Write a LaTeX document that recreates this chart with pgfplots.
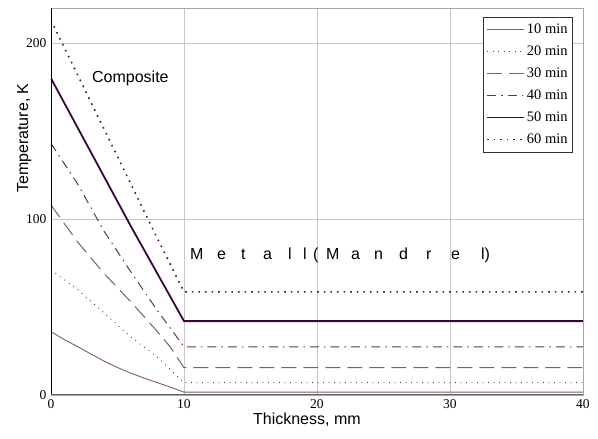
\documentclass[border=0pt]{standalone}
\usepackage{fontspec}
\setmainfont{Liberation Serif}
\newfontfamily\arial{Liberation Sans}
\usepackage{pgfplots}
\pgfplotsset{compat=1.18}

\definecolor{cLight}{HTML}{80587F}
\definecolor{cMid}{HTML}{633263}
\definecolor{cDash}{HTML}{7E5880}
\definecolor{cDark}{HTML}{36063A}
\definecolor{cDot}{HTML}{501450}

\newcommand{\ltr}[2]{\makebox[#1pt][l]{#2}}

\begin{document}
\begin{tikzpicture}
\useasboundingbox (-51pt,-44pt) rectangle (547pt,395pt);
\begin{axis}[
    scale only axis,
    width=532pt, height=387pt,
    xmin=0, xmax=40, ymin=0, ymax=220,
    xtick={0,10,20,30,40}, ytick={0,100,200},
    major tick length=0pt,
    clip mode=individual,
    grid=major, grid style={draw=black!22, line width=0.8pt},
    axis line style={draw=black!35, line width=0.8pt},
    tick label style={font=\fontsize{13.5}{14}\selectfont},
    xticklabel style={yshift=-1pt},
    yticklabel style={xshift=-1pt},
    /pgf/number format/assume math mode=true,
    legend style={at={(0.981,0.977)}, anchor=north east, draw=black!80, line width=0.6pt,
      fill=white, font=\fontsize{14.5}{15}\selectfont, row sep=6.8pt,
      inner xsep=3pt, inner ysep=5pt},
    legend cell align=left,
    legend image code/.code={\draw[#1] (0pt,0pt) -- (37pt,0pt);},
  ]
  \addplot[cLight, line width=0.9pt] coordinates {
    (0,36) (1,31.5) (2,27.5) (3,23.3) (4,19.2) (5,15.6) (6,12.4) (7,9.6) (8,7) (9,4.4) (10,1.6) (40,1.6)};
  \addlegendentry{10 min}
  \addplot[cMid, line width=0.9pt, dash pattern=on 0.9pt off 4.6pt] coordinates {
    (0,71) (2,60) (4,46.5) (6,33) (8,21.5) (10,7) (40,7)};
  \addlegendentry{20 min}
  \addplot[cDash, line width=1pt, dash pattern=on 15pt off 7pt] coordinates {
    (0,108) (2,87) (4,69) (6,53) (8,36) (9,27) (10,15.5) (40,15.5)};
  \addlegendentry{30 min}
  \addplot[cMid, line width=1pt, dash pattern=on 9pt off 5pt on 1.5pt off 5pt] coordinates {
    (0,143) (2,120) (4,93) (6,70) (8,48) (10,27.4) (40,27.4)};
  \addlegendentry{40 min}
  \addplot[cDark, line width=1.8pt] coordinates {
    (0,180) (2,152) (4,124) (6,96) (8,69) (10,42) (40,42)};
  \addlegendentry{50 min}
  \addplot[cDot, line width=1.6pt, dash pattern=on 1.6pt off 5pt] coordinates {
    (0,213) (2,182) (4,151) (6,120) (8,89) (10,58.6) (40,58.6)};
  \addlegendentry{60 min}

  \draw[black, line width=0.9pt] (rel axis cs:0,0) -- (rel axis cs:0,1);
  \draw[black!60, line width=1pt] (rel axis cs:0,0) -- (rel axis cs:1,0);

  \node[anchor=west, font=\arial\fontsize{16}{17}\selectfont, inner sep=0pt]
    at (axis cs:3.08,180) {Composite};
  \node[anchor=west, font=\arial\fontsize{16}{17}\selectfont, inner sep=0pt]
    at (axis cs:10.45,79.5)
    {\ltr{27}{M}\ltr{24}{e}\ltr{22}{t}\ltr{25}{a}\ltr{15}{l}\ltr{10}{l}\ltr{13}{(}\ltr{25}{M}\ltr{23}{a}\ltr{25}{n}\ltr{27}{d}\ltr{25}{r}\ltr{30}{e}l)};
  \node[font=\arial\fontsize{16}{17}\selectfont, rotate=90]
    at (rel axis cs:-0.050,0.664) {Temperature, K};
  \node[font=\arial\fontsize{16}{17}\selectfont]
    at (rel axis cs:0.481,-0.065) {Thickness, mm};
\end{axis}
\end{tikzpicture}
\end{document}
